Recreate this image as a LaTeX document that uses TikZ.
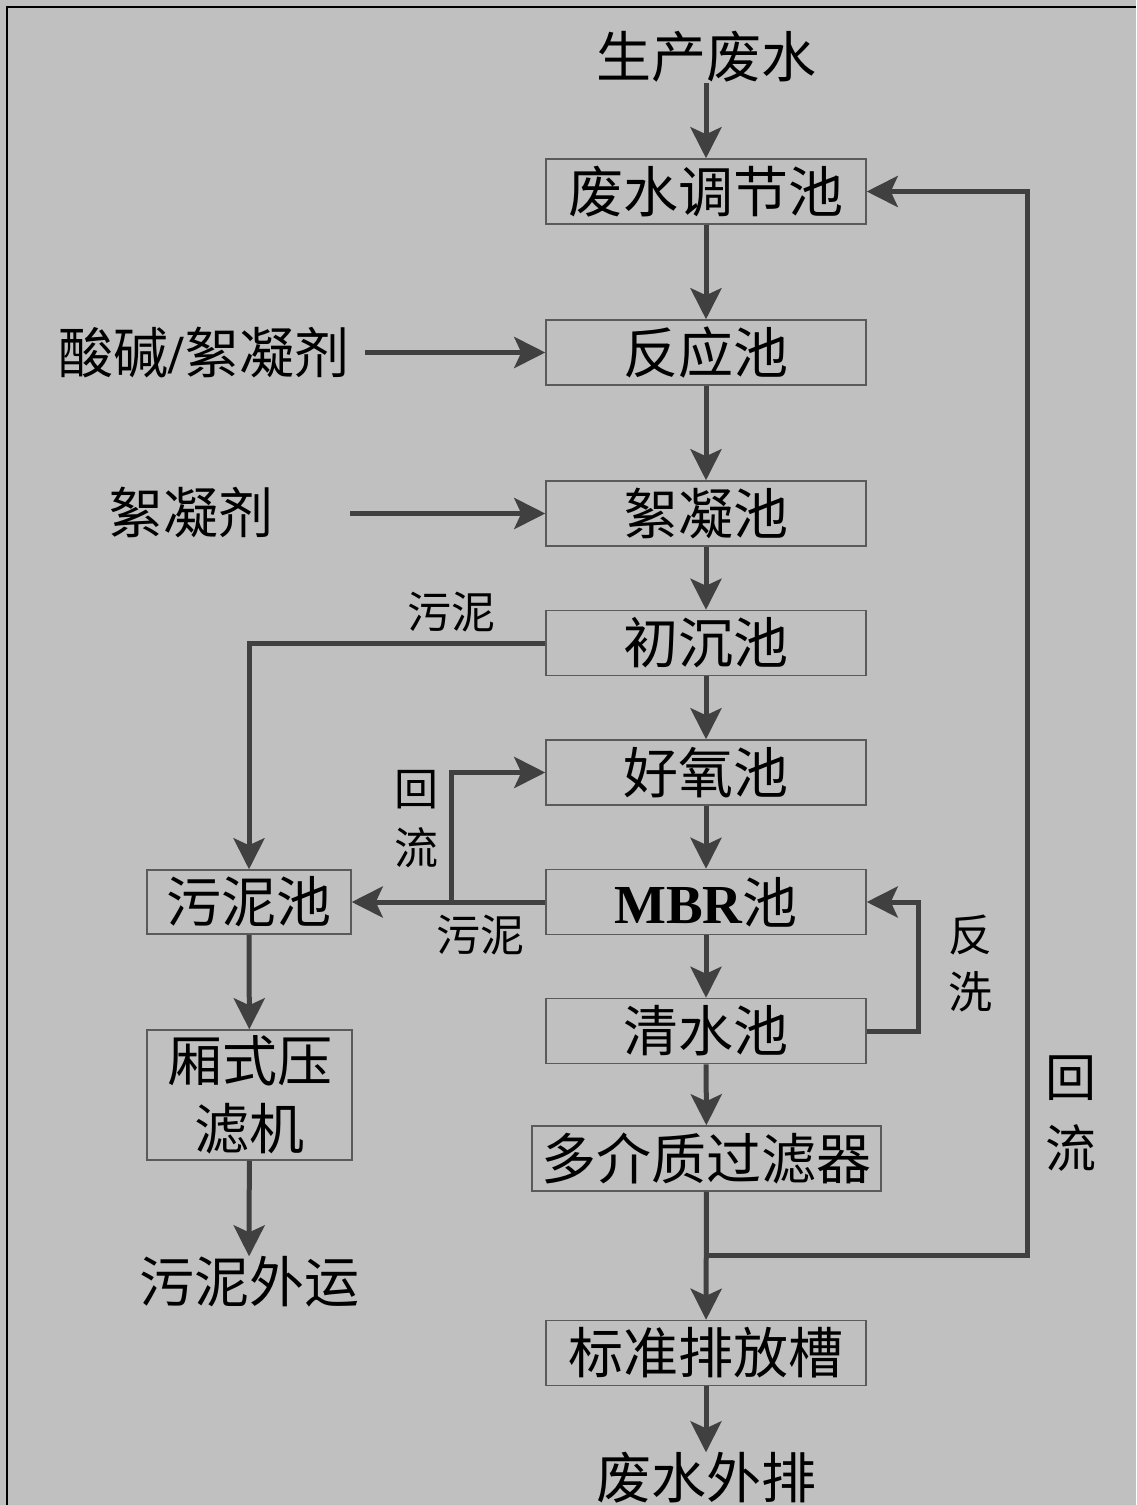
\documentclass[tikz,border=0pt]{standalone}
\usepackage{fontspec}
\setmainfont{Liberation Serif}
\newfontfamily\cjk{Noto Sans CJK SC}
\newfontfamily\tnr{Liberation Serif}
\usetikzlibrary{arrows.meta}
\definecolor{bg}{HTML}{C0C0C0}
\definecolor{lc}{HTML}{404040}
\definecolor{bx}{HTML}{5A5A5A}
\tikzset{
  box/.style={draw=bx, line width=1.5pt, minimum width=320pt, minimum height=65pt, inner sep=0pt, font=\cjk\fontsize{55}{60}\selectfont},
  lbl/.style={inner sep=0pt, font=\cjk\fontsize{55}{60}\selectfont},
  mid/.style={inner sep=0pt, font=\cjk\fontsize{51}{56}\selectfont},
  sm/.style={inner sep=0pt, font=\cjk\fontsize{44}{48}\selectfont},
  arr/.style={draw=lc, line width=5pt, -{Stealth[length=31pt,width=31pt,inset=7pt]}}
}
\begin{document}
\begin{tikzpicture}[x=1pt,y=-1pt]
\fill[bg] (0,0) rectangle (1136,1505);
\useasboundingbox (0,0) rectangle (1136,1505);
\draw[black, line width=2.5pt] (7,1505) -- (7,7) -- (1136,7);

\node[lbl] (src) at (706,57) {生产废水};
\node[box] (b1) at (706,191.5) {废水调节池};
\node[box] (b2) at (706,352.5) {反应池};
\node[box] (b3) at (706,513.5) {絮凝池};
\node[box] (b4) at (706,643) {初沉池};
\node[box] (b5) at (706,772.5) {好氧池};
\node[box] (b6) at (706,902) {{\tnr\bfseries MBR}池};
\node[box] (b7) at (706,1031) {清水池};
\node[box, minimum width=349pt] (b8) at (706.5,1158.5) {多介质过滤器};
\node[box] (b9) at (706,1353) {标准排放槽};
\node[lbl] (out) at (706,1478) {废水外排};

\node[box, minimum width=204pt, minimum height=64pt] (s1) at (249,902) {污泥池};
\node[box, minimum width=205pt, minimum height=130pt, align=center, font=\cjk\fontsize{55}{68}\selectfont] (s2) at (249.5,1095) {厢式压\\滤机};
\node[lbl] (s3) at (249,1282) {污泥外运};

\node[lbl] (in1) at (204,353) {酸碱{\tnr\bfseries /}絮凝剂};
\node[lbl] (in2) at (191,513) {絮凝剂};
\coordinate (c1) at (365,352.5);
\coordinate (c2) at (350,513.5);

\node[sm] (t1) at (451,612) {污泥};
\node[sm] (t2) at (416,790) {回};
\node[sm] (t3) at (416,848) {流};
\node[sm] (t4) at (480,935) {污泥};
\node[sm] (t5) at (970,935) {反};
\node[sm] (t6) at (970,992) {洗};
\node[mid] (t7) at (1071,1078) {回};
\node[mid] (t8) at (1071,1148) {流};

\coordinate (j1) at (451,902);
\coordinate (j2) at (918,902);
\coordinate (j3) at (706,1255);
\coordinate (j4) at (1027,1255);

\draw[arr] (src) -- (b1);
\draw[arr] (b1) -- (b2);
\draw[arr] (b2) -- (b3);
\draw[arr] (b3) -- (b4);
\draw[arr] (b4) -- (b5);
\draw[arr] (b5) -- (b6);
\draw[arr] (b6) -- (b7);
\draw[arr] (b7) -- (b8);
\draw[arr] (b8) -- (b9);
\draw[arr] (b9) -- (out);
\draw[arr] (c1) -- (b2.west);
\draw[arr] (c2) -- (b3.west);
\draw[arr] (b4.west) -| (s1.north);
\draw[arr] (b6.west) -- (s1.east);
\draw[arr] (j1) |- (b5.west);
\draw[arr] (b7.east) -| (j2) -- (b6.east);
\draw[arr] (j3) -- (j4) |- (b1.east);
\draw[arr] (s1) -- (s2);
\draw[arr] (s2) -- (s3);
\end{tikzpicture}
\end{document}
